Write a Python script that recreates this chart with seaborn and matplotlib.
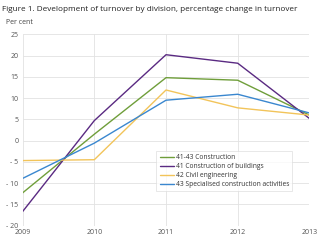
import seaborn as sns
import matplotlib.pyplot as plt
import pandas as pd

years = [2009, 2010, 2011, 2012, 2013]
construction = [-12.3, 1.5, 14.8, 14.2, 6.0]
buildings = [-16.7, 4.7, 20.2, 18.2, 5.2]
civil = [-4.7, -4.5, 11.9, 7.7, 6.0]
specialised = [-8.9, -0.6, 9.5, 10.9, 6.5]

series = ["41-43 Construction", "41 Construction of buildings",
          "42 Civil engineering", "43 Specialised construction activities"]
colors = ["#6f9e3a", "#5a2a82", "#f2c45a", "#3a87cf"]

df = pd.DataFrame({
    "year": years * 4,
    "value": construction + buildings + civil + specialised,
    "series": [s for s in series for _ in years],
})

sns.set_style("white")
plt.rcParams['font.family'] = ['Open Sans', 'DejaVu Sans']

fig = plt.figure(figsize=(3.2, 2.4), dpi=100)
ax = fig.add_axes([0.0706, 0.06, 0.8964, 0.797])

sns.lineplot(data=df, x="year", y="value", hue="series", palette=colors,
             linewidth=1.0, ax=ax)

ax.set_xlim(2009, 2013)
ax.set_ylim(-20, 25)
ax.set_xticks(years)
ax.set_yticks(range(-20, 26, 5))
ax.set_yticklabels([f"- {abs(v)}" if v < 0 else str(v) for v in range(-20, 26, 5)])
ax.grid(True, color="#e2e2e2", linewidth=0.6)
for s in ax.spines.values():
    s.set_visible(False)
ax.tick_params(axis="both", labelsize=5, colors="#555555", length=0, pad=3)
ax.tick_params(axis="x", pad=2.5)
ax.set_xlabel("")
ax.set_ylabel("")

leg = ax.legend(loc="upper left", bbox_to_anchor=(0.455, 0.41), fontsize=4.8,
                frameon=True, fancybox=False, handlelength=2.2, handletextpad=0.2,
                labelspacing=0.3, borderpad=0.5, title=None)
leg.get_frame().set_edgecolor("#dddddd")
leg.get_frame().set_linewidth(0.6)
for t in leg.get_texts():
    t.set_color("#333333")

fig.text(0.006, 0.975, "Figure 1. Development of turnover by division, percentage change in turnover",
         fontsize=5.9, color="#222222", va="top", ha="left")
fig.text(0.02, 0.92, "Per cent", fontsize=5, color="#444444", va="top", ha="left")

fig.savefig("out.png", dpi=100)
